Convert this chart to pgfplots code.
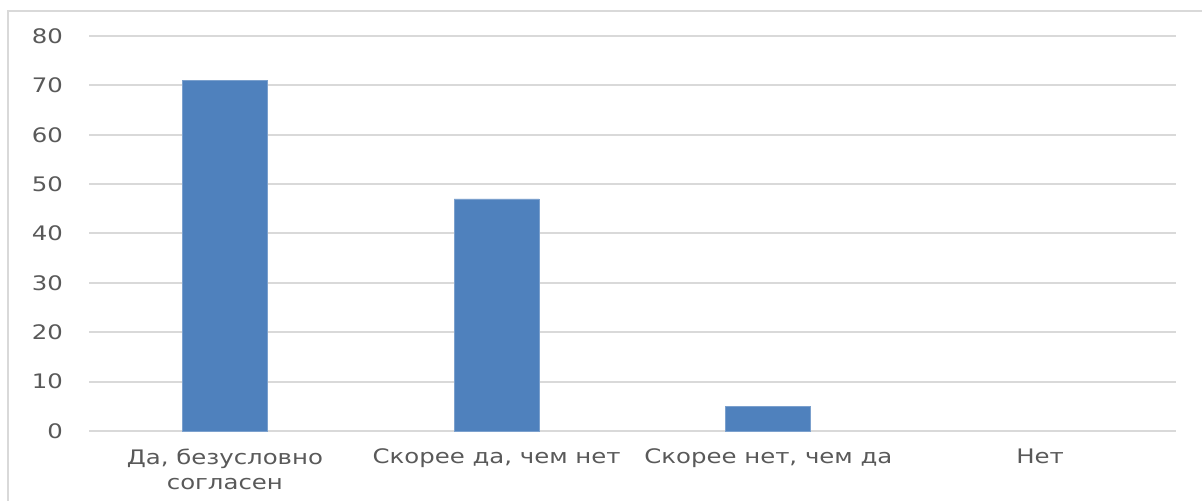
\documentclass[border=0pt]{standalone}
\usepackage{pgfplots}
\pgfplotsset{compat=1.18}
\usepackage{fontspec}
\setmainfont[FakeStretch=1.22]{DejaVu Sans}
\definecolor{barblue}{HTML}{4F81BD}
\definecolor{gridgray}{HTML}{D9D9D9}
\definecolor{txtgray}{HTML}{595959}
\begin{document}
\begin{tikzpicture}
\path[use as bounding box] (0,0) rectangle (601pt,-250.5pt);
\draw[gridgray, line width=1.2pt] (4pt,-250.5pt) -- (4pt,-5.5pt) -- (601pt,-5.5pt);
\begin{axis}[
  at={(44.5pt,-215.5pt)}, anchor=south west,
  scale only axis, width=543.5pt, height=197.5pt,
  xmin=-0.5, xmax=3.5, ymin=0, ymax=80,
  ytick={0,10,...,80},
  xtick={0,1,2,3},
  xticklabels={{Да, безусловно\\согласен},{Скорее да, чем нет},{Скорее нет, чем да},{Нет}},
  x tick label style={align=center, font=\fontsize{10}{12.5}\selectfont, text=txtgray, yshift=-5.5pt},
  y tick label style={font=\fontsize{10}{12}\selectfont, text=txtgray, xshift=-9.5pt},
  /pgf/number format/assume math mode=true,
  axis line style={draw=none},
  major tick length=0pt,
  ymajorgrids, grid style={gridgray, line width=1pt},
  ybar, bar width=42.5pt,
]
\addplot[fill=barblue, draw=barblue!75!white, line width=0.4pt] coordinates {(0,71) (1,47) (2,5)};
\end{axis}
\end{tikzpicture}
\end{document}
